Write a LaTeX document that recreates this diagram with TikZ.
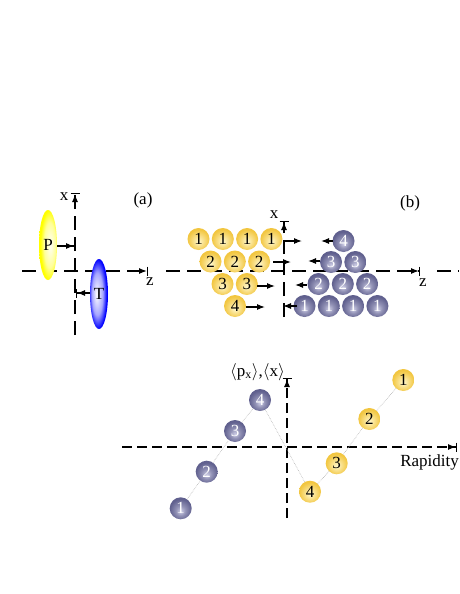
\documentclass[tikz,border=0pt]{standalone}
\usepackage{fontspec}
\setmainfont{Liberation Serif}
\usetikzlibrary{arrows.meta,shapes.geometric}
\definecolor{ygold}{RGB}{242,198,64}
\definecolor{ylight}{RGB}{255,248,206}
\definecolor{bslate}{RGB}{96,96,142}
\definecolor{blight}{RGB}{206,206,230}
\pgfdeclareradialshading{yball}{\pgfpoint{0bp}{-6bp}}{color(0bp)=(ylight); color(12bp)=(ylight!50!ygold); color(25bp)=(ygold); color(50bp)=(ygold)}
\pgfdeclareradialshading{bball}{\pgfpoint{0bp}{-7bp}}{color(0bp)=(blight); color(11bp)=(blight!45!bslate); color(25bp)=(bslate); color(50bp)=(bslate)}
\pgfdeclareradialshading{Pshade}{\pgfpoint{7bp}{0bp}}{color(0bp)=(yellow!4); color(16bp)=(yellow!40); color(25bp)=(yellow); color(50bp)=(yellow)}
\pgfdeclareradialshading{Tshade}{\pgfpoint{-7bp}{0bp}}{color(0bp)=(white); color(15bp)=(blue!35); color(25bp)=(blue); color(50bp)=(blue)}
\tikzset{
  axab/.style={line width=1.3pt, dash pattern=on 14pt off 7pt},
  axc/.style={line width=1.3pt, dash pattern=on 10pt off 5pt},
  bartip/.style={-{Latex[length=8pt,width=6pt] Bar[width=9pt,line width=1pt]}},
  mv/.style={line width=1.1pt, -{Latex[length=8pt,width=6pt]}},
  ball/.style={circle, minimum size=22pt, inner sep=0pt},
  yb/.style={ball, shade, shading=yball},
  bb/.style={ball, shade, shading=bball, text=white},
  link/.style={gray!60, line width=0.6pt, densely dotted},
  lens/.style={ellipse, minimum width=18pt, minimum height=70pt, inner sep=0pt, shade}
}
\begin{document}
\begin{tikzpicture}[x=1pt,y=-1pt,font=\fontsize{17}{20}\selectfont]
\useasboundingbox (0,0) rectangle (459,594);
% ---------------- (a)
\coordinate (ax0) at (75,335); \coordinate (ax1) at (75,193);
\coordinate (az0) at (22,271); \coordinate (az1) at (148,271);
\draw[axab,bartip] (ax0) -- (ax1);
\draw[axab,bartip] (az0) -- (az1);
\node[lens, shading=Pshade] (P) at (48,245) {P};
\node[lens, shading=Tshade] (T) at (99,294) {T};
\coordinate (pa0) at (57,246); \coordinate (pa1) at (75,246);
\coordinate (ta0) at (90,293); \coordinate (ta1) at (76,293);
\draw[mv,bartip] (pa0) -- (pa1);
\draw[mv,bartip] (ta0) -- (ta1);
\node (xa) at (64,197) {x};
\node (za) at (150,282) {z};
\node (la) at (143,200) {(a)};
% ---------------- (b)
\coordinate (bx0) at (284,317); \coordinate (bx1) at (284,221);
\coordinate (bz0) at (166,271); \coordinate (bz1) at (420,271);
\coordinate (bz2) at (437,271); \coordinate (bz3) at (459,271);
\draw[axab,bartip] (bx0) -- (bx1);
\draw[axab,bartip] (bz0) -- (bz1);
\draw[axab] (bz2) -- (bz3);
\node (xb) at (274,215) {x};
\node (zb) at (423,283) {z};
\node (lb) at (410,203) {(b)};
% yellow nucleons
\foreach \i/\x in {1/198.5,2/222.8,3/247.1,4/271.4} \node[yb] (ya\i) at (\x,239) {1};
\foreach \i/\x in {1/210.5,2/234.8,3/259.1} \node[yb] (yb\i) at (\x,261.5) {2};
\foreach \i/\x in {1/222.5,2/246.8} \node[yb] (yc\i) at (\x,284) {3};
\node[yb] (yd1) at (235,306) {4};
% blue nucleons
\node[bb] (ba1) at (343.5,241) {4};
\foreach \i/\x in {1/331,2/355.3} \node[bb] (bbb\i) at (\x,262) {3};
\foreach \i/\x in {1/318.5,2/342.8,3/367.1} \node[bb] (bc\i) at (\x,284) {2};
\foreach \i/\x in {1/304.5,2/328.8,3/353.1,4/377.4} \node[bb] (bd\i) at (\x,306) {1};
% motion arrows
\coordinate (m1a) at (284,241); \coordinate (m1b) at (302,241);
\coordinate (m2a) at (273,262); \coordinate (m2b) at (291,262);
\coordinate (m3a) at (257,286); \coordinate (m3b) at (275,286);
\coordinate (m4a) at (246,307); \coordinate (m4b) at (265,307);
\coordinate (n1a) at (333,241); \coordinate (n1b) at (321,241);
\coordinate (n2a) at (320,261); \coordinate (n2b) at (308,261);
\coordinate (n3a) at (307,285); \coordinate (n3b) at (295,285);
\coordinate (n4a) at (297,306); \coordinate (n4b) at (283,306);
\foreach \a in {m1,m2,m3,m4,n1,n2,n3,n4} \draw[mv] (\a a) -- (\a b);
% ---------------- (c)
\coordinate (cy0) at (287,518); \coordinate (cy1) at (287,378);
\coordinate (cx0) at (122,447); \coordinate (cx1) at (457,447);
\draw[axc,bartip] (cy0) -- (cy1);
\draw[axc,bartip] (cx0) -- (cx1);
\node[anchor=east, inner sep=0pt] (ylab) at (285,372) {$\langle$p\textsubscript{x}$\rangle$,$\langle$x$\rangle$};
\node[anchor=east, inner sep=0pt] (xlab) at (459,462) {Rapidity};
\node[bb] (cb1) at (180.7,508.3) {1};
\node[bb] (cb2) at (206.7,471.7) {2};
\node[bb] (cb3) at (235,431) {3};
\node[bb] (cb4) at (260,400) {4};
\node[yb] (cy4) at (310,491.7) {4};
\node[yb] (cy3) at (336.7,463.3) {3};
\node[yb] (cy2) at (369.3,419) {2};
\node[yb] (cy1n) at (403.3,380) {1};
\draw[link] (cb1) -- (cb2) -- (cb3) -- (cb4) -- (cy4) -- (cy3) -- (cy2) -- (cy1n);
\end{tikzpicture}
\end{document}
